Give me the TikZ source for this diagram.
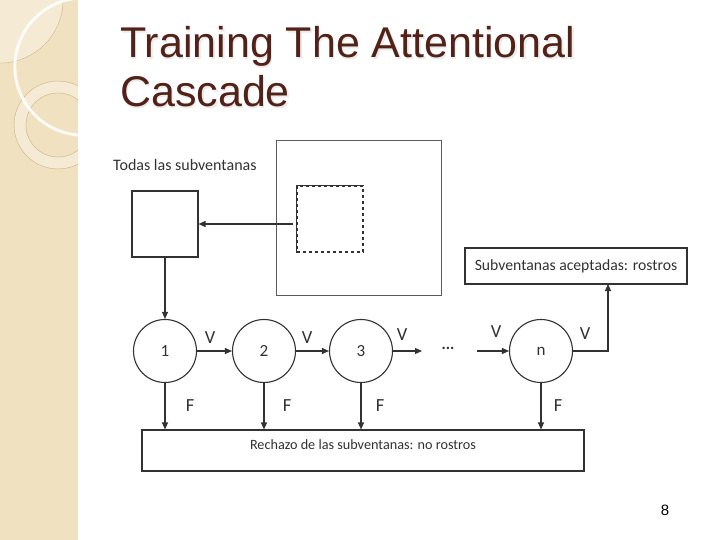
\documentclass[tikz,border=0pt]{standalone}
\usepackage{fontspec}
\setmainfont{Liberation Sans}
\newfontfamily\diagfont{Carlito}
\usetikzlibrary{arrows.meta}
\definecolor{strip}{RGB}{240,225,192}
\definecolor{stripl}{RGB}{245,235,212}
\definecolor{ringc}{RGB}{205,180,140}
\definecolor{titlec}{RGB}{82,34,24}
\definecolor{linec}{RGB}{50,50,50}
\tikzset{
  box/.style={draw=linec, line width=1.1pt, fill=white, inner sep=0pt},
  circ/.style={circle, draw=linec, line width=1.1pt, minimum size=63pt, inner sep=0pt, font=\diagfont\fontsize{17}{19}\selectfont, text=linec},
  lab/.style={font=\diagfont\fontsize{16}{18}\selectfont, inner sep=0pt, text=linec},
  vf/.style={font=\diagfont\fontsize{18.5}{20}\selectfont, inner sep=0pt, text=linec},
  arr/.style={draw=linec, line width=1.1pt, -{Triangle[length=7pt,width=6pt]}},
  ttl/.style={anchor=base west, inner sep=0pt, font=\fontsize{43}{43}\selectfont}
}
\begin{document}
\begin{tikzpicture}[x=1pt,y=-1pt]
\useasboundingbox (0,0) rectangle (720,540);
\fill[white] (0,0) rectangle (720,540);
% decorative strip
\begin{scope}
\clip (0,0) rectangle (78,540);
\fill[strip] (0,0) rectangle (78,540);
\fill[stripl] (0,0) circle (63);
\draw[ringc, line width=0.4pt] (0,0) circle (63);
\draw[stripl, line width=11pt] (58,125) circle (38);
\draw[ringc, line width=0.4pt] (58,125) circle (44);
\draw[ringc, line width=0.4pt] (58,125) circle (32);
\draw[white, line width=3pt, opacity=0.85] (83.5,66.6) circle (68.6);
\end{scope}
% title
\node[ttl, text=black!8] (s1) at (121.5,59.5) {Training The Attentional};
\node[ttl, text=black!8] (s2) at (121.5,108.5) {Cascade};
\node[ttl, text=titlec] (t1) at (120,58) {Training The Attentional};
\node[ttl, text=titlec] (t2) at (120,107) {Cascade};
% diagram
\node[lab, anchor=west] (todas) at (113,165) {Todas las subventanas};
\node[draw=linec!80, line width=0.9pt, minimum width=165pt, minimum height=155pt, inner sep=0pt] (big) at (358.5,217.5) {};
\node[draw=linec, line width=1.1pt, dashed, minimum width=66pt, minimum height=66pt, inner sep=0pt] (dash) at (330,219) {};
\draw[linec, line width=1.1pt] (dash.south west) -- (dash.north west) -- (dash.north east);
\node[box, minimum width=66pt, minimum height=66pt] (A) at (165,224) {};
\draw[arr] (dash.west |- A.east) ++(-3,0) -- (A.east);
\node[circ] (c1) at (165,351) {1};
\node[circ] (c2) at (264,351) {2};
\node[circ] (c3) at (361,351) {3};
\node[circ] (cn) at (541,351) {n};
\node[lab, font=\diagfont\bfseries\fontsize{16}{18}\selectfont] (dots) at (448,348) {...};
\coordinate (d1) at (422,351);
\coordinate (d2) at (477,351);
\draw[arr] (A.south) -- (c1.north);
\draw[arr] (c1.east) -- (c2.west);
\draw[arr] (c2.east) -- (c3.west);
\draw[arr] (c3.east) -- (d1);
\draw[arr] (d2) -- (cn.west);
\node[vf] (v1) at (210,338) {V};
\node[vf] (v2) at (307,338) {V};
\node[vf] (v3) at (402,335) {V};
\node[vf] (v4) at (496,332) {V};
\node[vf] (v5) at (585,334) {V};
\node[box, minimum width=222pt, minimum height=36pt, font=\diagfont\fontsize{15.7}{18}\selectfont, text=linec] (acc) at (576,266) {Subventanas aceptadas: rostros};
\node[box, minimum width=442pt, minimum height=41pt] (rej) at (363,450.5) {};
\node[lab, font=\diagfont\fontsize{14.2}{16}\selectfont] (rejt) at (363,445) {Rechazo de las subventanas: no rostros};
\coordinate (up) at (608,284);
\draw[arr] (cn.east) -| (up);
\foreach \c in {c1,c2,c3,cn} \draw[arr] (\c.south) -- (\c.south |- rej.north);
\node[vf] (f1) at (190,406) {F};
\node[vf] (f2) at (287,406) {F};
\node[vf] (f3) at (380,406) {F};
\node[vf] (f4) at (558,406) {F};
\node[inner sep=0pt, font=\fontsize{15}{15}\selectfont] (pg) at (665,510) {8};
\end{tikzpicture}
\end{document}
